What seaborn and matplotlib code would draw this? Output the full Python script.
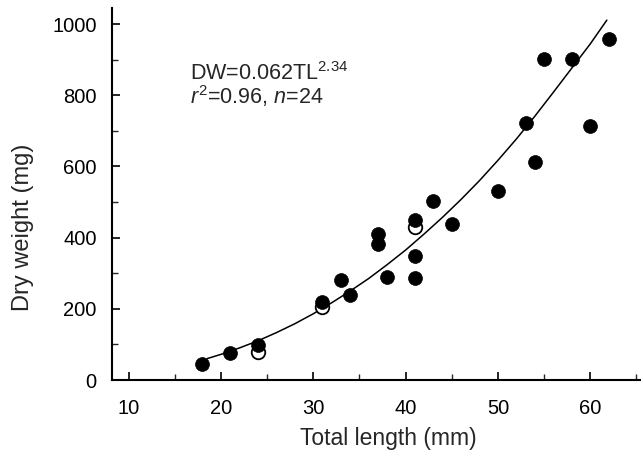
import matplotlib
matplotlib.use("Agg")
import matplotlib.pyplot as plt
from matplotlib.ticker import MultipleLocator
import seaborn as sns
import pandas as pd

# Filled points (mm, mg)
tl_filled = [18, 21, 24, 31, 33, 34, 37, 37, 38, 41, 41, 41, 43, 45, 50, 53, 54, 55, 58, 60, 62]
dw_filled = [45, 75, 98, 219, 281, 239, 410, 382, 290, 449, 348, 286, 503, 438, 531, 722, 612, 902, 902, 714, 958]
# Open points (partly hidden)
tl_open = [24, 31, 41]
dw_open = [80, 205, 430]
# Fitted curve
curve_tl = [18.5, 20, 22, 24, 26, 28, 30, 32, 34, 36, 38, 40, 42, 44, 46, 48, 50, 52, 54, 56, 58, 60, 61.8]
curve_dw = [60, 72, 90, 110, 133, 158, 186, 217, 250, 285, 324, 365, 410, 457, 507, 560, 617, 677, 741, 808, 876, 944, 1011]

xticks = [10, 20, 30, 40, 50, 60]
yticks = [0, 200, 400, 600, 800, 1000]

sns.set_style("ticks")
plt.rcParams["font.family"] = ["Liberation Sans", "DejaVu Sans"]
plt.rcParams["mathtext.fontset"] = "custom"
plt.rcParams["mathtext.rm"] = "Liberation Sans"
plt.rcParams["mathtext.it"] = "Liberation Sans:italic"

fig = plt.figure(figsize=(6.41, 4.58), dpi=100)
ax = fig.add_axes([0.1747, 0.1703, 0.8253, 0.8122])

df_c = pd.DataFrame({"tl": curve_tl, "dw": curve_dw})
sns.lineplot(data=df_c, x="tl", y="dw", ax=ax, color="black", linewidth=1.1, zorder=2)

df_o = pd.DataFrame({"tl": tl_open, "dw": dw_open})
sns.scatterplot(data=df_o, x="tl", y="dw", ax=ax, color="white", edgecolor="black",
                linewidth=1.3, s=95, zorder=3)
df_f = pd.DataFrame({"tl": tl_filled, "dw": dw_filled})
sns.scatterplot(data=df_f, x="tl", y="dw", ax=ax, color="black", edgecolor="black",
                linewidth=0.5, s=100, zorder=4)

ax.set_xlim(8.2, 65.5)
ax.set_ylim(0, 1045)
ax.set_xticks(xticks)
ax.set_yticks(yticks)
ax.xaxis.set_minor_locator(MultipleLocator(5))
ax.yaxis.set_minor_locator(MultipleLocator(100))
ax.tick_params(axis="both", which="major", direction="in", length=6, width=1.2,
               labelsize=14.5, colors="black")
ax.tick_params(axis="x", which="major", pad=14)
ax.tick_params(axis="y", which="major", pad=11)
ax.tick_params(axis="both", which="minor", direction="in", length=4, width=1.0)
sns.despine(ax=ax)
for s in ["left", "bottom"]:
    ax.spines[s].set_linewidth(1.5)
    ax.spines[s].set_color("black")

ax.set_xlabel("Total length (mm)", fontsize=16.5)
ax.set_ylabel("Dry weight (mg)", fontsize=17)
ax.xaxis.set_label_coords(0.522, -0.125)
ax.yaxis.set_label_coords(-0.148, 0.41)

ax.text(0.147, 0.806, r"DW=0.062TL$^{\mathregular{2.34}}$", transform=ax.transAxes,
        fontsize=15.5, va="baseline", ha="left")
ax.text(0.147, 0.742, r"$\mathit{r}^{\mathregular{2}}$=0.96, $\mathit{n}$=24", transform=ax.transAxes,
        fontsize=15.5, va="baseline", ha="left")

fig.savefig("out.png", dpi=100)
